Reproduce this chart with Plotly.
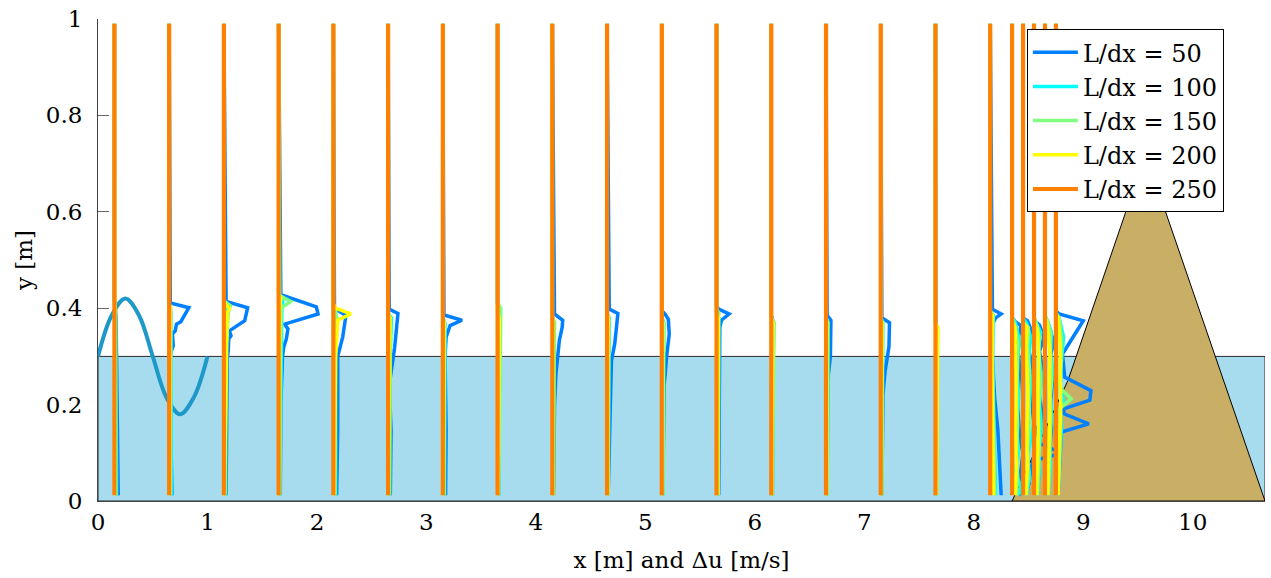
import plotly.graph_objects as go

# ---------------- data ----------------
STATIONS = [0.15, 0.65, 1.15, 1.65, 2.15, 2.65, 3.15, 3.65, 4.15, 4.65, 5.15,
            5.65, 6.15, 6.65, 7.15, 7.65, 8.15, 8.35, 8.45, 8.55, 8.65, 8.75]

RES_LABELS = ["L/dx = 50", "L/dx = 100", "L/dx = 150", "L/dx = 200", "L/dx = 250"]
RES_COLORS = ["rgb(0,128,255)", "rgb(0,255,255)", "rgb(128,255,128)",
              "rgb(255,255,0)", "rgb(255,128,0)"]
RES_WIDTHS = [3.5, 3.5, 3.5, 3.5, 4.2]

# wave (surface elevation)
WAVE_X = [0.0, 0.125, 0.25, 0.375, 0.5, 0.625, 0.75, 0.875, 1.0]
WAVE_Y = [0.30, 0.385, 0.42, 0.385, 0.30, 0.215, 0.18, 0.215, 0.30]

WATER_X = [0.0, 10.66, 10.66, 0.0, 0.0]
WATER_Y = [0.0, 0.0, 0.30, 0.30, 0.0]

DIKE_X = [8.35, 8.86, 9.57, 10.66, 8.35]
DIKE_Y = [0.0, 0.25, 0.72, 0.0, 0.0]

# velocity-difference profiles (y [m], du [m/s]) per station
P50 = [
    [(0.012, 0.035), (0.15, 0.03), (0.30, 0.02), (0.38, 0.015), (0.42, 0.0), (0.99, 0.0)],
    [(0.012, 0.025), (0.20, 0.015), (0.295, 0.005), (0.312, 0.02), (0.322, 0.037), (0.347, 0.03),
     (0.353, 0.055), (0.367, 0.067), (0.372, 0.107), (0.401, 0.18), (0.411, 0.01), (0.99, 0.0)],
    [(0.012, 0.02), (0.20, 0.025), (0.295, 0.03), (0.312, 0.04), (0.336, 0.044), (0.343, 0.065),
     (0.353, 0.05), (0.374, 0.19), (0.401, 0.217), (0.414, 0.02), (0.99, 0.0)],
    [(0.012, 0.015), (0.20, 0.02), (0.298, 0.035), (0.319, 0.046), (0.336, 0.07), (0.357, 0.085),
     (0.367, 0.055), (0.388, 0.36), (0.403, 0.344), (0.428, 0.02), (0.99, 0.0)],
    [(0.012, 0.03), (0.15, 0.04), (0.30, 0.04), (0.34, 0.085), (0.385, 0.115), (0.395, 0.04),
     (0.40, 0.01), (0.99, 0.0)],
    [(0.012, 0.02), (0.147, 0.027), (0.24, 0.01), (0.277, 0.037), (0.319, 0.06), (0.364, 0.079),
     (0.389, 0.09), (0.398, 0.01), (0.99, 0.0)],
    [(0.012, 0.025), (0.147, 0.03), (0.30, 0.02), (0.34, 0.03), (0.364, 0.066), (0.375, 0.175),
     (0.386, 0.01), (0.99, 0.0)],
    [(0.012, 0.01), (0.30, 0.015), (0.40, 0.02), (0.41, 0.0), (0.99, 0.0)],
    [(0.012, 0.01), (0.20, 0.02), (0.264, 0.033), (0.302, 0.048), (0.333, 0.064), (0.36, 0.09),
     (0.375, 0.095), (0.388, 0.02), (0.99, 0.0)],
    [(0.012, 0.01), (0.26, 0.03), (0.291, 0.04), (0.326, 0.07), (0.36, 0.09), (0.389, 0.099),
     (0.398, 0.02), (0.99, 0.0)],
    [(0.012, 0.01), (0.24, 0.02), (0.26, 0.03), (0.298, 0.043), (0.346, 0.068), (0.377, 0.06),
     (0.388, 0.03), (0.395, 0.0), (0.99, 0.0)],
    [(0.012, 0.02), (0.36, 0.03), (0.375, 0.045), (0.388, 0.115), (0.398, 0.02), (0.405, 0.0),
     (0.99, 0.0)],
    [(0.012, 0.01), (0.30, 0.015), (0.37, 0.02), (0.385, 0.0), (0.99, 0.0)],
    [(0.012, 0.01), (0.25, 0.015), (0.30, 0.04), (0.375, 0.045), (0.385, 0.01), (0.99, 0.0)],
    [(0.012, 0.01), (0.22, 0.02), (0.27, 0.04), (0.32, 0.075), (0.37, 0.08), (0.38, 0.01),
     (0.99, 0.0)],
    [(0.012, 0.005), (0.99, 0.0)],
    [(0.012, 0.10), (0.147, 0.07), (0.215, 0.04), (0.30, 0.02), (0.367, 0.02), (0.38, 0.05),
     (0.388, 0.10), (0.398, 0.02), (0.99, 0.0)],
    [(0.012, 0.06), (0.035, 0.15), (0.045, 0.07), (0.10, 0.10), (0.13, 0.07), (0.20, 0.05),
     (0.27, 0.07), (0.33, 0.05), (0.364, 0.08), (0.372, 0.03), (0.38, 0.0), (0.99, 0.0)],
    [(0.012, 0.03), (0.05, 0.06), (0.085, 0.09), (0.105, 0.14), (0.126, 0.15), (0.16, 0.10),
     (0.20, 0.08), (0.25, 0.10), (0.30, 0.06), (0.32, 0.05), (0.346, 0.09), (0.374, 0.04),
     (0.38, 0.0), (0.99, 0.0)],
    [(0.012, 0.02), (0.06, 0.05), (0.085, 0.02), (0.099, 0.25), (0.12, 0.05), (0.17, 0.08),
     (0.22, 0.05), (0.27, 0.08), (0.31, 0.05), (0.34, 0.09), (0.365, 0.05), (0.375, 0.0),
     (0.99, 0.0)],
    [(0.012, 0.02), (0.10, 0.04), (0.15, 0.06), (0.20, 0.05), (0.25, 0.07), (0.30, 0.05),
     (0.33, 0.08), (0.36, 0.04), (0.374, 0.02), (0.38, 0.0), (0.99, 0.0)],
    [(0.012, 0.02), (0.143, 0.05), (0.16, 0.30), (0.181, 0.075), (0.191, 0.07), (0.209, 0.31),
     (0.229, 0.32), (0.257, 0.08), (0.305, 0.06), (0.34, 0.16), (0.374, 0.25), (0.388, 0.03),
     (0.395, 0.0), (0.99, 0.0)],
]

P100 = [
    [(0.012, 0.02), (0.30, 0.015), (0.39, 0.01), (0.41, 0.0), (0.99, 0.0)],
    [(0.012, 0.02), (0.30, 0.015), (0.39, 0.015), (0.41, 0.0), (0.99, 0.0)],
    [(0.012, 0.015), (0.30, 0.02), (0.39, 0.03), (0.405, 0.02), (0.415, 0.0), (0.99, 0.0)],
    [(0.012, 0.01), (0.30, 0.02), (0.40, 0.03), (0.42, 0.04), (0.43, 0.0), (0.99, 0.0)],
    [(0.012, 0.02), (0.30, 0.02), (0.38, 0.03), (0.39, 0.0), (0.99, 0.0)],
    [(0.012, 0.015), (0.30, 0.02), (0.38, 0.03), (0.39, 0.0), (0.99, 0.0)],
    [(0.012, 0.015), (0.30, 0.015), (0.37, 0.02), (0.38, 0.0), (0.99, 0.0)],
    [(0.012, 0.01), (0.30, 0.015), (0.40, 0.02), (0.41, 0.0), (0.99, 0.0)],
    [(0.012, 0.01), (0.30, 0.02), (0.37, 0.02), (0.38, 0.0), (0.99, 0.0)],
    [(0.012, 0.01), (0.30, 0.02), (0.38, 0.02), (0.39, 0.0), (0.99, 0.0)],
    [(0.012, 0.01), (0.30, 0.02), (0.37, 0.02), (0.38, 0.0), (0.99, 0.0)],
    [(0.012, 0.015), (0.30, 0.02), (0.38, 0.02), (0.39, 0.0), (0.99, 0.0)],
    [(0.012, 0.01), (0.30, 0.015), (0.37, 0.02), (0.38, 0.0), (0.99, 0.0)],
    [(0.012, 0.01), (0.30, 0.02), (0.37, 0.02), (0.38, 0.0), (0.99, 0.0)],
    [(0.012, 0.01), (0.30, 0.02), (0.37, 0.02), (0.38, 0.0), (0.99, 0.0)],
    [(0.012, 0.01), (0.30, 0.015), (0.36, 0.015), (0.37, 0.0), (0.99, 0.0)],
    [(0.012, 0.05), (0.20, 0.03), (0.30, 0.02), (0.385, 0.03), (0.395, 0.0), (0.99, 0.0)],
    [(0.012, 0.06), (0.03, 0.08), (0.06, 0.03), (0.10, 0.06), (0.15, 0.04), (0.22, 0.06),
     (0.28, 0.04), (0.33, 0.07), (0.37, 0.03), (0.38, 0.0), (0.99, 0.0)],
    [(0.012, 0.03), (0.05, 0.06), (0.09, 0.04), (0.13, 0.07), (0.18, 0.05), (0.24, 0.07),
     (0.29, 0.05), (0.34, 0.07), (0.37, 0.03), (0.38, 0.0), (0.99, 0.0)],
    [(0.012, 0.03), (0.06, 0.05), (0.10, 0.04), (0.15, 0.07), (0.20, 0.05), (0.26, 0.07),
     (0.31, 0.04), (0.35, 0.06), (0.37, 0.02), (0.38, 0.0), (0.99, 0.0)],
    [(0.012, 0.03), (0.08, 0.05), (0.12, 0.04), (0.17, 0.06), (0.22, 0.05), (0.27, 0.07),
     (0.31, 0.05), (0.35, 0.06), (0.375, 0.02), (0.385, 0.0), (0.99, 0.0)],
    [(0.012, 0.02), (0.10, 0.04), (0.15, 0.05), (0.19, 0.04), (0.21, 0.07), (0.24, 0.04),
     (0.29, 0.05), (0.34, 0.07), (0.38, 0.03), (0.39, 0.0), (0.99, 0.0)],
]

P150 = [
    [(0.012, 0.01), (0.30, 0.01), (0.40, 0.01), (0.41, 0.0), (0.99, 0.0)],
    [(0.012, 0.01), (0.30, 0.01), (0.40, 0.015), (0.41, 0.0), (0.99, 0.0)],
    [(0.012, 0.01), (0.30, 0.015), (0.39, 0.04), (0.405, 0.06), (0.415, 0.0), (0.99, 0.0)],
    [(0.012, 0.01), (0.30, 0.015), (0.401, 0.025), (0.414, 0.11), (0.426, 0.01), (0.99, 0.0)],
    [(0.012, 0.01), (0.30, 0.015), (0.38, 0.03), (0.395, 0.02), (0.40, 0.0), (0.99, 0.0)],
    [(0.012, 0.01), (0.30, 0.015), (0.38, 0.02), (0.39, 0.0), (0.99, 0.0)],
    [(0.012, 0.01), (0.30, 0.01), (0.37, 0.015), (0.38, 0.0), (0.99, 0.0)],
    [(0.012, 0.01), (0.30, 0.02), (0.40, 0.03), (0.41, 0.0), (0.99, 0.0)],
    [(0.012, 0.01), (0.30, 0.015), (0.37, 0.015), (0.38, 0.0), (0.99, 0.0)],
    [(0.012, 0.01), (0.30, 0.015), (0.38, 0.015), (0.39, 0.0), (0.99, 0.0)],
    [(0.012, 0.01), (0.30, 0.015), (0.37, 0.015), (0.38, 0.0), (0.99, 0.0)],
    [(0.012, 0.015), (0.30, 0.02), (0.39, 0.02), (0.40, 0.0), (0.99, 0.0)],
    [(0.012, 0.01), (0.30, 0.02), (0.37, 0.025), (0.38, 0.0), (0.99, 0.0)],
    [(0.012, 0.01), (0.30, 0.015), (0.37, 0.015), (0.38, 0.0), (0.99, 0.0)],
    [(0.012, 0.01), (0.30, 0.015), (0.37, 0.015), (0.38, 0.0), (0.99, 0.0)],
    [(0.012, 0.01), (0.30, 0.015), (0.36, 0.02), (0.37, 0.0), (0.99, 0.0)],
    [(0.012, 0.04), (0.20, 0.03), (0.30, 0.02), (0.385, 0.025), (0.395, 0.0), (0.99, 0.0)],
    [(0.012, 0.04), (0.05, 0.05), (0.10, 0.04), (0.16, 0.05), (0.22, 0.04), (0.28, 0.05),
     (0.33, 0.05), (0.37, 0.02), (0.38, 0.0), (0.99, 0.0)],
    [(0.012, 0.03), (0.06, 0.05), (0.11, 0.04), (0.16, 0.06), (0.22, 0.05), (0.27, 0.06),
     (0.32, 0.04), (0.36, 0.05), (0.37, 0.0), (0.99, 0.0)],
    [(0.012, 0.03), (0.07, 0.04), (0.12, 0.05), (0.18, 0.04), (0.24, 0.06), (0.30, 0.04),
     (0.34, 0.05), (0.37, 0.02), (0.38, 0.0), (0.99, 0.0)],
    [(0.012, 0.03), (0.08, 0.04), (0.14, 0.05), (0.20, 0.04), (0.25, 0.06), (0.30, 0.05),
     (0.35, 0.05), (0.375, 0.02), (0.385, 0.0), (0.99, 0.0)],
    [(0.012, 0.02), (0.10, 0.03), (0.17, 0.04), (0.191, 0.03), (0.212, 0.14), (0.236, 0.03),
     (0.29, 0.05), (0.34, 0.05), (0.38, 0.03), (0.39, 0.0), (0.99, 0.0)],
]

P200 = [
    [(0.012, 0.005), (0.40, 0.005), (0.41, 0.0), (0.99, 0.0)],
    [(0.012, 0.005), (0.40, 0.01), (0.41, 0.0), (0.99, 0.0)],
    [(0.012, 0.005), (0.39, 0.03), (0.40, 0.05), (0.41, 0.01), (0.42, 0.0), (0.99, 0.0)],
    [(0.012, 0.005), (0.40, 0.01), (0.42, 0.02), (0.43, 0.0), (0.99, 0.0)],
    [(0.012, 0.01), (0.30, 0.02), (0.375, 0.04), (0.388, 0.16), (0.40, 0.02), (0.41, 0.0),
     (0.99, 0.0)],
    [(0.012, 0.005), (0.30, 0.01), (0.38, 0.015), (0.39, 0.0), (0.99, 0.0)],
    [(0.012, 0.005), (0.37, 0.01), (0.38, 0.0), (0.99, 0.0)],
    [(0.012, 0.005), (0.38, 0.015), (0.39, 0.0), (0.99, 0.0)],
    [(0.012, 0.005), (0.37, 0.01), (0.38, 0.0), (0.99, 0.0)],
    [(0.012, 0.005), (0.38, 0.01), (0.39, 0.0), (0.99, 0.0)],
    [(0.012, 0.005), (0.37, 0.01), (0.38, 0.0), (0.99, 0.0)],
    [(0.012, 0.01), (0.38, 0.015), (0.39, 0.0), (0.99, 0.0)],
    [(0.012, 0.005), (0.37, 0.015), (0.38, 0.0), (0.99, 0.0)],
    [(0.012, 0.005), (0.37, 0.01), (0.38, 0.0), (0.99, 0.0)],
    [(0.012, 0.005), (0.37, 0.01), (0.38, 0.0), (0.99, 0.0)],
    [(0.012, 0.01), (0.36, 0.02), (0.37, 0.0), (0.99, 0.0)],
    [(0.012, 0.03), (0.30, 0.015), (0.385, 0.02), (0.395, 0.0), (0.99, 0.0)],
    [(0.012, 0.03), (0.08, 0.04), (0.15, 0.03), (0.22, 0.04), (0.30, 0.03), (0.36, 0.03),
     (0.37, 0.0), (0.99, 0.0)],
    [(0.012, 0.025), (0.08, 0.04), (0.15, 0.035), (0.22, 0.045), (0.30, 0.03), (0.36, 0.035),
     (0.37, 0.0), (0.99, 0.0)],
    [(0.012, 0.025), (0.09, 0.035), (0.16, 0.04), (0.23, 0.035), (0.30, 0.045), (0.36, 0.03),
     (0.37, 0.0), (0.99, 0.0)],
    [(0.012, 0.025), (0.10, 0.035), (0.18, 0.045), (0.25, 0.04), (0.31, 0.045), (0.37, 0.02),
     (0.38, 0.0), (0.99, 0.0)],
    [(0.012, 0.02), (0.12, 0.03), (0.20, 0.045), (0.26, 0.04), (0.32, 0.04), (0.38, 0.02),
     (0.39, 0.0), (0.99, 0.0)],
]

P250 = [[(0.012, 0.0), (0.99, 0.0)] for _ in STATIONS]

ALL_PROFILES = [P50, P100, P150, P200, P250]

FONT = "DejaVu Serif"
FS = 23
FS_LEG = 24

# ---------------- figure ----------------
fig = go.Figure()

fig.add_trace(go.Scatter(x=WATER_X, y=WATER_Y, mode="lines", fill="toself",
                         fillcolor="rgb(167,220,239)",
                         line=dict(color="rgb(40,40,40)", width=1),
                         showlegend=False, hoverinfo="skip"))

fig.add_trace(go.Scatter(x=DIKE_X, y=DIKE_Y, mode="lines", fill="toself",
                         fillcolor="rgb(201,174,102)",
                         line=dict(color="black", width=1),
                         showlegend=False, hoverinfo="skip"))

fig.add_trace(go.Scatter(x=WAVE_X, y=WAVE_Y, mode="lines",
                         line=dict(color="rgb(30,152,200)", width=4, shape="spline"),
                         showlegend=False, hoverinfo="skip"))


def build(profiles):
    xs, ys = [], []
    for s, prof in zip(STATIONS, profiles):
        for y, du in prof:
            xs.append(s + du)
            ys.append(y)
        xs.append(None)
        ys.append(None)
    return xs, ys


for label, color, lw, profs in zip(RES_LABELS, RES_COLORS, RES_WIDTHS, ALL_PROFILES):
    xs, ys = build(profs)
    fig.add_trace(go.Scatter(x=xs, y=ys, mode="lines", name=label,
                             line=dict(color=color, width=lw),
                             connectgaps=False, hoverinfo="skip"))

fig.update_layout(
    width=1271, height=578,
    margin=dict(l=98, r=6, t=17, b=77),
    paper_bgcolor="white", plot_bgcolor="white",
    font=dict(family=FONT, size=FS, color="black"),
    showlegend=True,
    legend=dict(x=0.796, y=0.979, xanchor="left", yanchor="top",
                bgcolor="white", bordercolor="black", borderwidth=1,
                font=dict(family=FONT, size=FS_LEG, color="black"),
                tracegroupgap=0, itemwidth=45),
    xaxis=dict(range=[0, 10.66], tickvals=list(range(11)),
               ticktext=[str(v) for v in range(11)],
               ticks="", showline=True, linecolor="#444", linewidth=1,
               showgrid=False, zeroline=False, layer="below traces",
               tickfont=dict(family=FONT, size=FS),
               title=dict(text="x [m] and Δu [m/s]", standoff=18,
                          font=dict(family=FONT, size=FS))),
    yaxis=dict(range=[0, 1], tickvals=[0, 0.2, 0.4, 0.6, 0.8, 1.0],
               ticktext=["0", "0.2", "0.4", "0.6", "0.8", "1"],
               ticks="inside", ticklen=11, tickcolor="#666", tickwidth=1,
               ticklabelstandoff=10,
               showline=True, linecolor="#444", linewidth=1,
               showgrid=False, zeroline=False, layer="below traces",
               tickfont=dict(family=FONT, size=FS),
               title=dict(text="y [m]", standoff=6,
                          font=dict(family=FONT, size=FS))),
)

fig.write_html("out.html")
